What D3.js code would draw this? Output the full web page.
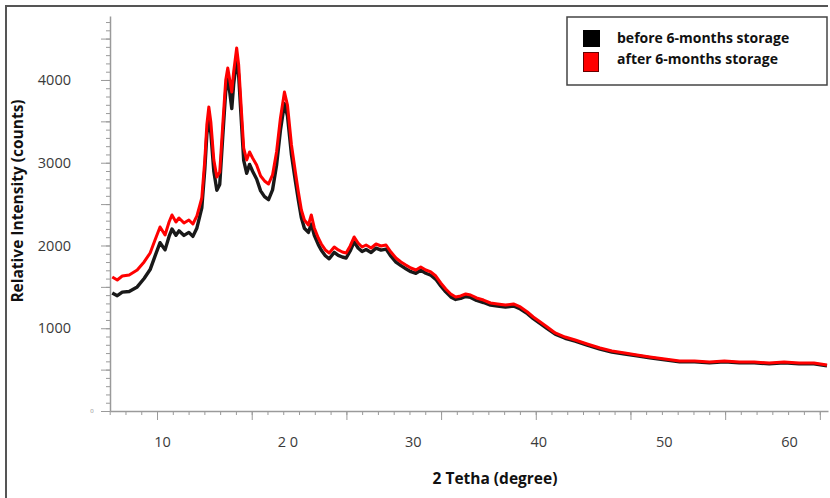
<!DOCTYPE html>
<html>
<head>
<meta charset="utf-8">
<script src="https://cdn.jsdelivr.net/npm/d3@7"></script>
<style>
  html, body { margin: 0; padding: 0; background: #fff; }
  svg { display: block; }
</style>
</head>
<body>
<svg id="chart" width="830" height="498"></svg>
<script>
// ---- data ----
const twoTheta = [6.03,6.43,6.83,7.38,8.02,8.57,9.05,9.44,9.84,10.24,10.56,10.79,11.11,11.35,11.75,12.14,12.46,12.78,13.02,13.17,13.41,13.57,13.73,13.89,14.13,14.37,14.60,14.84,15.08,15.24,15.40,15.56,15.71,15.95,16.11,16.35,16.51,16.75,16.98,17.22,17.54,17.86,18.17,18.49,18.81,19.13,19.44,19.76,20.00,20.32,20.63,20.87,21.11,21.35,21.67,21.90,22.14,22.46,22.70,23.02,23.33,23.73,24.05,24.37,24.68,25.00,25.32,25.63,25.95,26.27,26.67,27.06,27.46,27.86,28.25,28.65,29.05,29.44,29.84,30.24,30.63,31.03,31.43,31.83,32.22,32.62,33.02,33.41,33.81,34.21,34.60,35.08,35.63,36.19,36.75,37.38,38.02,38.57,39.13,39.60,40.16,40.71,41.35,42.14,42.94,43.89,44.92,45.87,46.90,47.86,48.89,50.08,51.27,52.46,53.65,54.84,56.03,57.22,58.41,59.60,60.79,61.98,63.02];

const afterStorage = [1619,1583,1631,1644,1704,1801,1909,2067,2224,2127,2284,2369,2284,2332,2272,2308,2260,2357,2490,2574,3033,3456,3674,3493,3033,2828,2888,3456,4000,4145,4000,3855,4097,4387,4181,3577,3178,3033,3130,3057,2973,2840,2780,2743,2852,3130,3541,3855,3698,3215,2888,2647,2429,2308,2248,2369,2212,2091,2018,1946,1909,1982,1946,1921,1909,1994,2103,2030,1982,2006,1970,2018,1994,2006,1921,1849,1801,1764,1728,1704,1740,1704,1680,1631,1547,1474,1414,1378,1390,1414,1402,1366,1341,1305,1293,1281,1293,1257,1196,1136,1076,1015,943,894,858,810,761,725,701,677,653,628,604,604,592,604,592,592,580,592,580,580,556];

const beforeStorage = [1426,1393,1436,1444,1499,1601,1709,1872,2034,1947,2109,2199,2124,2177,2122,2158,2110,2212,2360,2454,2923,3336,3544,3363,2893,2668,2738,3316,3870,4015,3850,3655,3947,4257,4051,3437,3028,2873,2980,2897,2803,2660,2590,2553,2672,2970,3391,3715,3568,3095,2778,2547,2334,2208,2158,2259,2122,2011,1943,1876,1839,1917,1881,1861,1849,1934,2043,1970,1927,1951,1915,1968,1944,1956,1871,1799,1756,1719,1683,1664,1700,1664,1640,1591,1512,1439,1379,1348,1360,1384,1372,1336,1311,1280,1268,1256,1268,1232,1176,1116,1056,995,928,879,843,795,749,713,689,667,643,618,594,594,582,594,582,582,570,582,570,570,546];

const xTickLabels = [10, 20, 30, 40, 50, 60];
const xTickMarks = [9.6, 17.15, 24.7, 32.25, 39.8, 47.35, 54.9, 62.45];
const yTickLabels = [1000, 2000, 3000, 4000];
const seriesNames = ["before 6-months storage", "after 6-months storage"];
const seriesColors = ["#000000", "#ff0000"];

// ---- layout ----
const svg = d3.select("#chart");
const plotLeft = 110, plotRight = 828, plotTop = 16, plotBottom = 411;

const x = d3.scaleLinear().domain([5.85, 63.1]).range([plotLeft, plotRight]);
const y = d3.scaleLinear().domain([0, 4773]).range([plotBottom, plotTop]);

// frame
svg.append("path")
  .attr("d", `M6,498 L6,6 L828,6`)
  .attr("fill", "none").attr("stroke", "#555").attr("stroke-width", 2);

const axisColor = "#9a9a9a";
const labelColor = "#3a3a3a";
const fontFam = "'Open Sans', 'DejaVu Sans', sans-serif";

// x axis: minor ticks
const xMinor = d3.range(xTickMarks[0] - 3 * 1.258, 63.1, 1.258);
svg.append("g").attr("transform", `translate(0,${plotBottom})`)
  .call(d3.axisBottom(x).tickValues(xMinor).tickSize(4).tickFormat(""))
  .call(g => g.select(".domain").remove())
  .call(g => g.selectAll("line").attr("stroke", axisColor));
// x axis: major ticks + line
svg.append("g").attr("transform", `translate(0,${plotBottom})`)
  .call(d3.axisBottom(x).tickValues(xTickMarks).tickSize(9).tickFormat("").tickSizeOuter(0))
  .call(g => g.select(".domain").attr("stroke", axisColor).attr("stroke-width", 1.5))
  .call(g => g.selectAll("line").attr("stroke", axisColor));
// x labels
svg.append("g").attr("transform", `translate(0,${plotBottom})`)
  .call(d3.axisBottom(x).tickValues(xTickLabels).tickSize(0).tickPadding(0)
        .tickFormat(d => d === 20 ? "2 0" : String(d)))
  .call(g => g.select(".domain").remove())
  .call(g => g.selectAll("text")
    .attr("y", 36).attr("dy", 0)
    .attr("fill", labelColor)
    .style("font-family", fontFam).style("font-size", "14.5px"));

// y axis minor ticks
const yMinor = d3.range(0, 4773, 100);
svg.append("g").attr("transform", `translate(${plotLeft},0)`)
  .call(d3.axisLeft(y).tickValues(yMinor).tickSize(4).tickFormat(""))
  .call(g => g.select(".domain").remove())
  .call(g => g.selectAll("line").attr("stroke", axisColor));
svg.append("g").attr("transform", `translate(${plotLeft},0)`)
  .call(d3.axisLeft(y).tickValues(d3.range(0, 4773, 500)).tickSize(9).tickFormat("").tickSizeOuter(0))
  .call(g => g.select(".domain").attr("stroke", axisColor).attr("stroke-width", 1.5))
  .call(g => g.selectAll("line").attr("stroke", axisColor));
// y labels
svg.append("g").attr("transform", `translate(71,0)`)
  .call(d3.axisLeft(y).tickValues(yTickLabels).tickSize(0).tickPadding(0)
        .tickFormat(d3.format("d")))
  .call(g => g.select(".domain").remove())
  .call(g => g.selectAll("text")
    .attr("fill", labelColor)
    .style("font-family", fontFam).style("font-size", "14.5px"));
// tiny zero label
svg.append("text").attr("x", 92).attr("y", y(0)).attr("dy", "0.35em")
  .attr("text-anchor", "middle").attr("fill", "#888")
  .style("font-family", fontFam).style("font-size", "6px").text("0");

// lines
const pts = vals => vals.map((v, i) => [twoTheta[i], v]);
const line = d3.line().x(d => x(d[0])).y(d => y(d[1]));
svg.append("path").datum(pts(beforeStorage))
  .attr("d", line).attr("fill", "none").attr("stroke", seriesColors[0])
  .attr("stroke-width", 3.4).attr("stroke-linejoin", "round").attr("opacity", 0.9);
svg.append("path").datum(pts(afterStorage))
  .attr("d", line).attr("fill", "none").attr("stroke", seriesColors[1])
  .attr("stroke-width", 3).attr("stroke-linejoin", "round");

// axis titles
svg.append("text")
  .attr("transform", `translate(23,201) rotate(-90)`)
  .attr("text-anchor", "middle").attr("fill", "#111")
  .style("font-family", fontFam).style("font-weight", "bold").style("font-size", "15.5px")
  .text("Relative Intensity (counts)");
svg.append("text")
  .attr("x", 495).attr("y", 484)
  .attr("text-anchor", "middle").attr("fill", "#111")
  .style("font-family", fontFam).style("font-weight", "bold").style("font-size", "15.5px")
  .text("2 Tetha (degree)");

// legend
const lg = svg.append("g");
lg.append("rect").attr("x", 567).attr("y", 17).attr("width", 260).attr("height", 68)
  .attr("fill", "#fff").attr("stroke", "#444").attr("stroke-width", 1.5);
lg.append("rect").attr("x", 583).attr("y", 30).attr("width", 17).attr("height", 17)
  .attr("fill", seriesColors[0]);
lg.append("rect").attr("x", 583.5).attr("y", 52.5).attr("width", 15).attr("height", 19)
  .attr("fill", seriesColors[1]).attr("stroke", "#600").attr("stroke-width", 1);
seriesNames.forEach((n, i) => {
  lg.append("text").attr("x", 617).attr("y", 43 + i * 21)
    .attr("fill", "#111")
    .style("font-family", fontFam).style("font-weight", "bold").style("font-size", "14px")
    .text(n);
});
</script>
</body>
</html>
